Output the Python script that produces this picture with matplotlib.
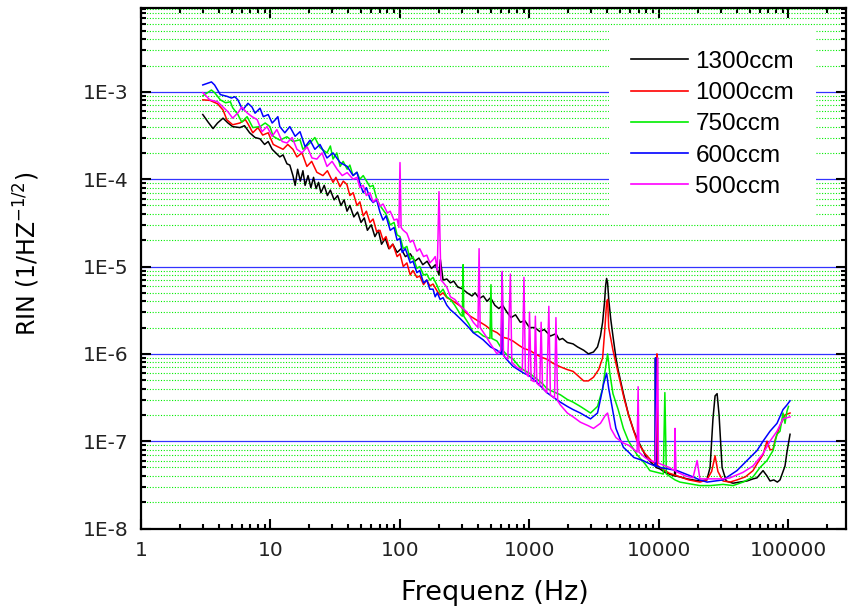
import numpy as np
import matplotlib
matplotlib.use("Agg")
import matplotlib.pyplot as plt
from matplotlib.ticker import LogLocator, NullFormatter

# =====================================================
# DATA - values
# =====================================================

f_1300 = [3.0, 3.3, 3.6, 3.9, 4.3, 4.7, 5.1, 5.8, 6.3, 6.9, 7.6, 8.3, 9.0, 9.6, 10.3, 11.0,
          11.8, 12.5, 13.4, 14.1, 14.9, 15.5, 16.2, 17.0, 17.8, 18.5, 19.5, 20.5, 21.5, 22.5,
          23.5, 24.5, 26, 27.5, 29, 31, 33, 35, 37, 39, 41, 44, 47, 50, 53, 56, 60, 64, 68, 72,
          77, 82, 88, 95, 102, 110, 120, 130, 140, 150, 162, 175, 188, 200, 205, 215, 230, 245,
          260, 280, 300, 330, 360, 380, 410, 440, 470, 500, 540, 580, 620, 670, 720, 780, 850,
          920, 1000, 1100, 1200, 1300, 1450, 1600, 1700, 1800, 1960, 2170, 2350, 2620, 2850,
          3120, 3350, 3530, 3670, 3800, 3870, 3940, 4010, 4090, 4240, 4410, 4650, 4840, 5310,
          5820, 6400, 7160, 8000, 8900, 9330, 9400, 9480, 10200, 11100, 12000, 13200, 13300,
          13400, 14500, 16500, 18300, 20700, 23400, 24800, 26100, 27100, 28100, 29100, 30700,
          33000, 37300, 42000, 47800, 53200, 57100, 60300, 63600, 68200, 72000, 77000, 82000,
          86000, 90700, 94000, 97300, 100000, 102800]
rin_1300 = [5.5e-4, 4.5e-4, 3.8e-4, 4.4e-4, 5.0e-4, 4.4e-4, 4.0e-4, 3.9e-4, 4.1e-4, 3.4e-4, 3.0e-4,
            2.9e-4, 2.5e-4, 2.7e-4, 2.2e-4, 2.0e-4, 1.8e-4, 1.9e-4, 1.5e-4, 1.45e-4, 1.1e-4,
            8.5e-5, 1.3e-4, 9.5e-5, 1.25e-4, 8.5e-5, 1.1e-4, 8.0e-5, 1.05e-4, 7.8e-5, 9.2e-5,
            7.0e-5, 8.5e-5, 6.5e-5, 7.5e-5, 5.8e-5, 6.5e-5, 5.0e-5, 5.8e-5, 4.3e-5, 5.0e-5,
            3.7e-5, 4.2e-5, 3.2e-5, 3.6e-5, 2.6e-5, 3.0e-5, 2.2e-5, 2.6e-5, 1.8e-5, 2.1e-5,
            1.6e-5, 1.8e-5, 1.45e-5, 1.6e-5, 1.3e-5, 1.4e-5, 1.15e-5, 1.25e-5, 1.05e-5, 1.15e-5,
            9.5e-6, 1.05e-5, 8.0e-6, 1.2e-5, 7.0e-6, 7.2e-6, 6.5e-6, 6.8e-6, 5.8e-6, 5.6e-6,
            5.0e-6, 4.6e-6, 5.0e-6, 4.3e-6, 4.6e-6, 4.0e-6, 4.4e-6, 3.6e-6, 3.3e-6, 3.6e-6,
            3.0e-6, 2.6e-6, 2.8e-6, 2.3e-6, 2.4e-6, 2.0e-6, 2.0e-6, 1.8e-6, 1.9e-6, 1.6e-6,
            1.7e-6, 1.45e-6, 1.5e-6, 1.35e-6, 1.3e-6, 1.2e-6, 1.1e-6, 1.0e-6, 1.05e-6, 1.2e-6,
            1.6e-6, 2.3e-6, 4.0e-6, 6.0e-6, 7.3e-6, 6.5e-6, 4.2e-6, 2.5e-6, 1.6e-6, 9.0e-7,
            6.5e-7, 3.5e-7, 2.0e-7, 1.3e-7, 9.0e-8, 6.5e-8, 5.5e-8, 5.2e-8, 9.0e-7, 5.0e-8,
            4.8e-8, 4.4e-8, 4.2e-8, 4.0e-8, 1.3e-7, 4.0e-8, 3.9e-8, 3.7e-8, 3.6e-8, 3.5e-8,
            3.6e-8, 5.0e-8, 1.8e-7, 3.3e-7, 3.5e-7, 2.0e-7, 5.0e-8, 3.5e-8, 3.3e-8, 3.4e-8,
            3.5e-8, 3.7e-8, 3.8e-8, 4.2e-8, 4.6e-8, 4.0e-8, 3.5e-8, 3.6e-8, 3.4e-8, 3.6e-8,
            4.5e-8, 5.2e-8, 7.5e-8, 9.5e-8, 1.2e-7]

f_1000 = [3.0, 3.4, 3.9, 4.3, 4.6, 5.1, 5.8, 6.4, 6.7, 7.3, 8.0, 8.7, 9.6, 10.5, 11.4, 12.5, 13.6,
          14.9, 16.0, 17.5, 19.1, 20.8, 22.8, 25.4, 27.5, 30.4, 32, 34.4, 36.5, 38.9, 41, 43.5,
          46.5, 49, 52, 55, 58.6, 62, 66, 70, 74, 78, 83, 88, 95, 100, 106, 113, 120, 126, 135,
          142, 152, 161, 170, 180, 194, 204, 215, 230, 245, 265, 294, 320, 349, 380, 417, 460,
          500, 561, 620, 680, 746, 830, 906, 1000, 1131, 1270, 1360, 1520, 1730, 1960, 2170,
          2470, 2620, 2850, 3120, 3420, 3670, 3800, 3940, 4010, 4090, 4410, 4840, 5400, 5820,
          6770, 7800, 8900, 9560, 9640, 9720, 10200, 12000, 14500, 17000, 20700, 23400, 25500,
          27100, 28500, 31200, 35300, 40000, 46400, 53200, 57100, 63600, 68200, 72000, 75900,
          79000, 86000, 94000, 102800]
rin_1000 = [8.1e-4, 8.0e-4, 7.3e-4, 6.2e-4, 4.8e-4, 4.2e-4, 4.4e-4, 4.8e-4, 4.3e-4, 3.4e-4, 3.9e-4,
            3.2e-4, 3.4e-4, 2.5e-4, 2.35e-4, 2.2e-4, 2.5e-4, 2.2e-4, 1.8e-4, 2.0e-4, 1.4e-4,
            1.6e-4, 1.2e-4, 1.1e-4, 1.25e-4, 9.2e-5, 1.05e-4, 8.2e-5, 9.5e-5, 8.7e-5, 6.5e-5,
            7.0e-5, 5.0e-5, 5.5e-5, 3.8e-5, 4.3e-5, 3.2e-5, 3.5e-5, 2.5e-5, 2.6e-5, 2.0e-5,
            2.2e-5, 1.6e-5, 1.8e-5, 1.3e-5, 1.4e-5, 1.0e-5, 1.1e-5, 8.0e-6, 9.0e-6, 7.5e-6,
            7.8e-6, 6.2e-6, 7.0e-6, 6.0e-6, 6.3e-6, 5.2e-6, 4.7e-6, 5.0e-6, 4.4e-6, 4.2e-6,
            3.9e-6, 3.5e-6, 3.0e-6, 2.7e-6, 2.5e-6, 2.3e-6, 2.1e-6, 1.9e-6, 1.75e-6, 1.55e-6,
            1.5e-6, 1.4e-6, 1.25e-6, 1.15e-6, 1.1e-6, 9.8e-7, 9.0e-7, 8.7e-7, 7.8e-7, 7.1e-7,
            6.6e-7, 6.3e-7, 5.3e-7, 4.9e-7, 4.9e-7, 5.4e-7, 6.6e-7, 9.0e-7, 1.75e-6, 3.9e-6,
            4.2e-6, 2.0e-6, 1.1e-6, 6.0e-7, 3.0e-7, 2.0e-7, 1.0e-7, 7.2e-8, 5.8e-8, 5.5e-8,
            1.0e-6, 5.3e-8, 5.0e-8, 4.3e-8, 3.9e-8, 3.6e-8, 3.4e-8, 3.6e-8, 4.5e-8, 6.8e-8,
            4.5e-8, 3.5e-8, 3.4e-8, 3.6e-8, 3.9e-8, 4.6e-8, 5.5e-8, 7.0e-8, 1.0e-7, 8.0e-8,
            8.0e-8, 1.05e-7, 1.5e-7, 2.0e-7, 2.1e-7]

f_750 = [3.0, 3.5, 3.7, 4.1, 4.5, 4.9, 5.1, 5.6, 6.0, 6.6, 7.3, 8.3, 9.1, 9.9, 10.5, 11.8, 13.4,
         14.9, 16.9, 17.8, 20.2, 22.0, 24.1, 27.3, 29, 30.4, 32.5, 34.5, 36.4, 39.1, 41, 43.4,
         46.5, 49, 52, 58.6, 62, 66, 70, 78, 84, 90, 95, 100, 106, 113, 120, 126, 135, 142, 152,
         161, 170, 180, 194, 204, 215, 230, 245, 265, 294, 303, 307, 311, 340, 368, 400, 440,
         495, 504, 512, 561, 620, 680, 746, 830, 906, 1000, 1131, 1270, 1360, 1520, 1730, 1960,
         2170, 2470, 2960, 3350, 3670, 3870, 4010, 4170, 4410, 4840, 5310, 5820, 6770, 7800,
         8500, 10200, 10800, 11100, 11400, 13300, 14500, 18300, 20700, 25000, 31200, 37300,
         44600, 53200, 60300, 68200, 75900, 81500, 86000, 90700, 94000, 97300, 100000]
rin_750 = [9.0e-4, 1.05e-3, 9.8e-4, 8.1e-4, 7.5e-4, 7.7e-4, 6.6e-4, 5.5e-4, 4.5e-4, 5.2e-4, 3.9e-4,
           4.0e-4, 4.4e-4, 4.0e-4, 3.1e-4, 2.8e-4, 3.06e-4, 2.7e-4, 2.83e-4, 2.2e-4, 2.6e-4,
           3.0e-4, 2.3e-4, 2.0e-4, 2.4e-4, 1.7e-4, 2.0e-4, 1.4e-4, 1.6e-4, 1.3e-4, 1.45e-4,
           1.1e-4, 1.2e-4, 1.0e-4, 1.1e-4, 8.2e-5, 8.5e-5, 6.0e-5, 5.0e-5, 4.0e-5, 3.0e-5,
           3.2e-5, 2.3e-5, 2.2e-5, 1.6e-5, 1.7e-5, 1.2e-5, 1.3e-5, 9.5e-6, 1.0e-5, 8.0e-6,
           8.2e-6, 7.0e-6, 7.5e-6, 6.0e-6, 5.0e-6, 5.5e-6, 4.5e-6, 4.2e-6, 3.6e-6, 2.8e-6,
           2.7e-6, 1.05e-5, 2.7e-6, 2.2e-6, 1.75e-6, 1.8e-6, 1.6e-6, 1.5e-6, 6.2e-6, 1.5e-6,
           1.4e-6, 1.1e-6, 9.5e-7, 8.7e-7, 7.2e-7, 6.5e-7, 6.0e-7, 5.2e-7, 4.5e-7, 4.0e-7,
           3.7e-7, 3.4e-7, 3.0e-7, 2.8e-7, 2.5e-7, 2.1e-7, 2.5e-7, 4.0e-7, 7.0e-7, 1.0e-6,
           6.0e-7, 3.5e-7, 2.3e-7, 1.4e-7, 1.0e-7, 7.0e-8, 5.5e-8, 4.6e-8, 4.3e-8, 4.2e-8,
           3.6e-7, 4.2e-8, 3.6e-8, 3.4e-8, 3.2e-8, 3.1e-8, 3.1e-8, 3.2e-8, 3.1e-8, 3.4e-8,
           3.9e-8, 5.0e-8, 6.0e-8, 7.8e-8, 1.2e-7, 1.3e-7, 2.1e-7, 1.6e-7, 2.2e-7, 2.5e-7]

f_600 = [3.0, 3.5, 3.7, 4.1, 4.6, 5.0, 5.3, 5.6, 6.1, 6.7, 7.2, 7.6, 8.3, 8.8, 9.6, 10.3, 10.9,
         11.4, 11.8, 12.9, 14.1, 15.5, 16.9, 18.5, 20.2, 22.0, 24.1, 27.3, 30.4, 34.5, 39.1,
         43.4, 46.5, 49, 52, 55, 58.6, 62, 66, 70, 74, 78, 84, 90, 95, 100, 104, 110, 120, 126,
         135, 142, 152, 161, 170, 180, 187, 194, 204, 215, 230, 245, 265, 294, 330, 368, 400,
         438, 500, 561, 605, 615, 625, 650, 746, 830, 906, 1000, 1131, 1270, 1360, 1520, 1730,
         1960, 2170, 2470, 2960, 3350, 3530, 3730, 3940, 4090, 4240, 4650, 5310, 5820, 6400,
         7520, 8500, 9330, 9400, 9480, 9640, 10200, 13800, 18300, 20700, 23500, 31200, 40000,
         47800, 57100, 63600, 72000, 81500, 90700, 97300, 102800]
rin_600 = [1.2e-3, 1.3e-3, 1.2e-3, 9.3e-4, 8.9e-4, 8.5e-4, 8.8e-4, 8.1e-4, 6.2e-4, 7.4e-4, 6.7e-4,
           5.7e-4, 6.5e-4, 5.2e-4, 5.5e-4, 4.4e-4, 4.8e-4, 5.2e-4, 4.0e-4, 3.4e-4, 4.0e-4,
           3.1e-4, 3.5e-4, 2.35e-4, 2.8e-4, 2.2e-4, 2.5e-4, 1.75e-4, 2.0e-4, 1.55e-4, 1.4e-4,
           1.1e-4, 1.2e-4, 9.0e-5, 7.0e-5, 8.0e-5, 6.0e-5, 5.4e-5, 5.8e-5, 4.2e-5, 3.4e-5,
           3.8e-5, 2.6e-5, 2.8e-5, 2.0e-5, 2.1e-5, 1.45e-5, 1.6e-5, 1.1e-5, 1.15e-5, 8.5e-6,
           9.0e-6, 6.5e-6, 7.0e-6, 5.5e-6, 5.5e-6, 4.5e-6, 5.0e-6, 4.2e-6, 4.4e-6, 3.6e-6,
           3.2e-6, 2.9e-6, 2.5e-6, 2.1e-6, 1.75e-6, 1.6e-6, 1.45e-6, 1.2e-6, 1.1e-6, 1.0e-6,
           8.5e-6, 1.0e-6, 9.0e-7, 7.2e-7, 6.5e-7, 6.0e-7, 5.6e-7, 4.8e-7, 4.0e-7, 3.6e-7,
           3.2e-7, 2.8e-7, 2.5e-7, 2.3e-7, 2.1e-7, 1.8e-7, 2.1e-7, 3.0e-7, 4.5e-7, 6.0e-7,
           4.0e-7, 3.0e-7, 1.4e-7, 8.5e-8, 7.5e-8, 6.5e-8, 6.0e-8, 5.5e-8, 5.2e-8, 9.0e-7,
           5.2e-8, 5.2e-8, 5.0e-8, 4.6e-8, 3.9e-8, 3.6e-8, 3.4e-8, 3.6e-8, 4.6e-8, 6.0e-8,
           7.8e-8, 1.0e-7, 1.3e-7, 1.6e-7, 2.3e-7, 2.6e-7, 2.9e-7]

f_500 = [3.0, 3.4, 3.9, 4.3, 4.7, 5.1, 5.6, 6.0, 6.6, 7.2, 7.9, 8.6, 9.4, 10.3, 11.2, 12.3, 13.4,
         14.7, 16.0, 17.5, 19.2, 20.9, 22.8, 25.0, 27.3, 29.9, 32.7, 35.8, 39.1, 43.4, 46.5, 49,
         52, 55, 58.6, 62, 66, 70, 74, 80, 84, 90, 95, 98, 100, 102, 106, 113, 120, 126, 135,
         142, 152, 161, 170, 180, 187, 194, 200, 207, 215, 230, 245, 265, 294, 330, 368, 400,
         408, 416, 460, 500, 561, 600, 615, 630, 680, 712, 730, 800, 880, 906, 930, 980, 1000,
         1030, 1090, 1110, 1140, 1200, 1230, 1260, 1360, 1410, 1450, 1560, 1600, 1650, 1730,
         1960, 2170, 2470, 2850, 3120, 3530, 3870, 4010, 4240, 4650, 5310, 5820, 6770, 6900,
         7000, 7800, 8500, 9330, 9800, 9900, 10200, 12000, 13200, 13300, 13500, 16000, 18300,
         19700, 20700, 24800, 31200, 35300, 44600, 53200, 63600, 72000, 81500, 90700, 102800]
rin_500 = [9.8e-4, 8.1e-4, 7.7e-4, 6.7e-4, 5.9e-4, 5.0e-4, 5.75e-4, 6.7e-4, 5.75e-4, 5.2e-4, 4.8e-4,
           3.5e-4, 4.0e-4, 3.1e-4, 3.7e-4, 2.7e-4, 2.6e-4, 3.0e-4, 2.2e-4, 2.0e-4, 2.35e-4,
           1.75e-4, 1.7e-4, 2.0e-4, 1.4e-4, 1.6e-4, 1.3e-4, 1.1e-4, 1.19e-4, 1.0e-4, 1.05e-4,
           8.0e-5, 8.5e-5, 6.5e-5, 7.0e-5, 5.5e-5, 6.0e-5, 4.9e-5, 5.2e-5, 4.1e-5, 4.3e-5,
           3.4e-5, 3.5e-5, 2.8e-5, 1.55e-4, 2.8e-5, 2.6e-5, 2.4e-5, 1.9e-5, 2.0e-5, 1.5e-5,
           1.6e-5, 1.3e-5, 1.35e-5, 1.1e-5, 1.2e-5, 1.3e-5, 9.0e-6, 7.2e-5, 7.0e-6, 6.6e-6,
           5.8e-6, 4.5e-6, 4.2e-6, 3.5e-6, 3.0e-6, 2.3e-6, 2.0e-6, 1.6e-5, 2.0e-6, 1.6e-6,
           1.3e-6, 1.0e-6, 1.1e-6, 8.8e-6, 9.5e-7, 8.7e-7, 8.2e-6, 8.0e-7, 7.0e-7, 6.5e-7,
           7.5e-6, 6.2e-7, 5.5e-7, 3.0e-6, 5.0e-7, 4.8e-7, 2.7e-6, 4.6e-7, 4.3e-7, 2.3e-6,
           4.1e-7, 3.6e-7, 3.5e-6, 3.4e-7, 3.1e-7, 2.6e-6, 2.9e-7, 2.6e-7, 2.1e-7, 1.9e-7,
           1.65e-7, 1.5e-7, 1.4e-7, 1.6e-7, 2.0e-7, 2.1e-7, 1.4e-7, 1.1e-7, 9.5e-8, 9.0e-8,
           7.5e-8, 4.2e-7, 7.5e-8, 6.5e-8, 6.0e-8, 5.8e-8, 9.0e-7, 5.6e-8, 5.5e-8, 5.0e-8,
           4.6e-8, 1.4e-7, 4.5e-8, 4.0e-8, 3.8e-8, 6.0e-8, 3.7e-8, 3.7e-8, 3.7e-8, 3.8e-8,
           4.4e-8, 5.2e-8, 7.2e-8, 1.0e-7, 1.3e-7, 1.8e-7, 1.9e-7]

labels = ["1300ccm", "1000ccm", "750ccm", "600ccm", "500ccm"]
colors = ["#000000", "#ff0000", "#00ee00", "#0000ff", "#ff00ff"]

x_ticks = [1, 10, 100, 1000, 10000, 100000]
x_ticklabels = ["1", "10", "100", "1000", "10000", "100000"]
y_ticks = [1e-8, 1e-7, 1e-6, 1e-5, 1e-4, 1e-3]
y_ticklabels = ["1E-8", "1E-7", "1E-6", "1E-5", "1E-4", "1E-3"]

# =====================================================
# PLOT
# =====================================================

fig = plt.figure(figsize=(8.48, 6.11), dpi=100)
ax = fig.add_axes([141 / 848, 1 - 528.5 / 611, 705 / 848, 521 / 611])

series = [(f_1300, rin_1300), (f_1000, rin_1000), (f_750, rin_750), (f_600, rin_600), (f_500, rin_500)]
for (f, r), lab, col in zip(series, labels, colors):
    ax.plot(f, r, color=col, linewidth=1.1, label=lab)

ax.set_xscale("log")
ax.set_yscale("log")
ax.set_xlim(1, 2.78e5)
ax.set_ylim(1e-8, 9.25e-3)

ax.set_xticks(x_ticks)
ax.set_xticklabels(x_ticklabels)
ax.set_yticks(y_ticks)
ax.set_yticklabels(y_ticklabels)
ax.xaxis.set_minor_locator(LogLocator(base=10, subs=np.arange(2, 10), numticks=20))
ax.yaxis.set_minor_locator(LogLocator(base=10, subs=np.arange(2, 10), numticks=20))
ax.xaxis.set_minor_formatter(NullFormatter())
ax.yaxis.set_minor_formatter(NullFormatter())

ax.tick_params(which="both", direction="in", top=True, right=True, width=1.5,
               labelsize=14.5, pad=9, labelcolor="#222222")
ax.tick_params(which="major", length=7)
ax.tick_params(which="minor", length=3.5)
for sp in ax.spines.values():
    sp.set_linewidth(1.6)

# horizontal grid only: blue decades, green dotted minors
ax.set_axisbelow(True)
ax.yaxis.grid(True, which="major", color="#3333ff", linewidth=0.9, linestyle="-")
ax.yaxis.grid(True, which="minor", color="#00ee00", linewidth=0.8, linestyle=(0, (1, 1.5)))
ax.xaxis.grid(False, which="both")

ax.set_xlabel("Frequenz (Hz)", fontsize=19.5)
ax.xaxis.set_label_coords((495 - 141) / 705, -0.098)
ax.set_ylabel(r"RIN (1/HZ$^{\mathregular{-1/2}}$)", fontsize=17)
ax.yaxis.set_label_coords(-0.14, 0.528)

leg = ax.legend(loc="upper left", bbox_to_anchor=(609 / 848, 1 - 29 / 611),
                bbox_transform=fig.transFigure, prop={"family": "Liberation Sans", "size": 17.5},
                frameon=True, fancybox=False, edgecolor="none", facecolor="white", framealpha=1,
                handlelength=2.35, handletextpad=0.3, labelspacing=0.38, borderpad=0.9,
                borderaxespad=0)
for line in leg.get_lines():
    line.set_linewidth(1.2)

plt.savefig("out.png", dpi=100)
plt.close()
